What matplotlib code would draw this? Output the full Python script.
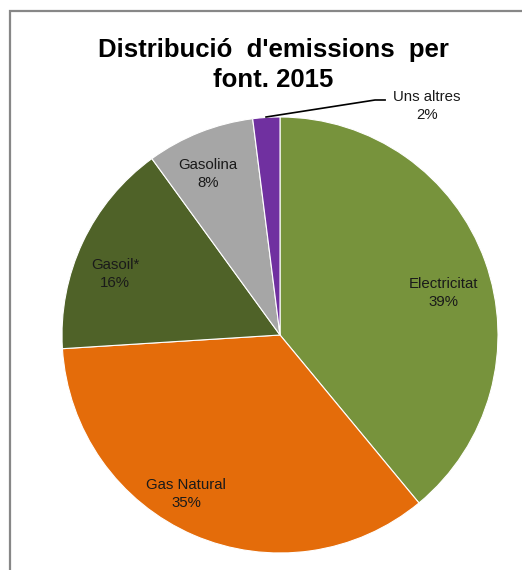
import matplotlib.pyplot as plt
from matplotlib.patches import Rectangle

labels = ["Electricitat", "Gas Natural", "Gasoil*", "Gasolina", "Uns altres"]
shares = [39, 35, 16, 8, 2]
colors = ["#77933C", "#E46C0A", "#4F6228", "#A6A6A6", "#7030A0"]

plt.rcParams["font.family"] = ["Liberation Sans", "DejaVu Sans"]

W, H = 522, 570
fig = plt.figure(figsize=(W / 100, H / 100), dpi=100)

# frame around the chart area
fig.patches.append(Rectangle((10 / W, -0.05), 1.2, 1 - 11 / H + 0.05,
                             transform=fig.transFigure, fill=False,
                             edgecolor="#878787", linewidth=1.6))

cx, cy, r = 280, 335, 218
ax = fig.add_axes([(cx - r) / W, (H - cy - r) / H, 2 * r / W, 2 * r / H])
wedges, _ = ax.pie(shares, colors=colors, startangle=90, counterclock=False,
                   radius=1, wedgeprops=dict(edgecolor="white", linewidth=0.8))
ax.set_xlim(-1, 1)
ax.set_ylim(-1, 1)
ax.set_aspect("equal")
ax.axis("off")

label_pos = [(0.752, 0.193), (-0.431, -0.729), (-0.757, 0.280),
             (-0.330, 0.739), (0.674, 1.050)]
for lab, val, (x, y) in zip(labels, shares, label_pos):
    ax.text(x, y, f"{lab}\n{val}%", ha="center", va="center", fontsize=10.8,
            color="#1a1a1a", linespacing=1.4, clip_on=False)

# leader line for the small slice
ax.plot([-0.064, 0.436, 0.482], [1.0, 1.078, 1.078], color="black",
        linewidth=1.2, clip_on=False)

fig.text(273 / W, 1 - 65 / H, "Distribució  d'emissions  per\nfont. 2015",
         ha="center", va="center", fontsize=18.5, fontweight="bold",
         linespacing=1.3)

fig.savefig("out.png", dpi=100)
plt.close(fig)
